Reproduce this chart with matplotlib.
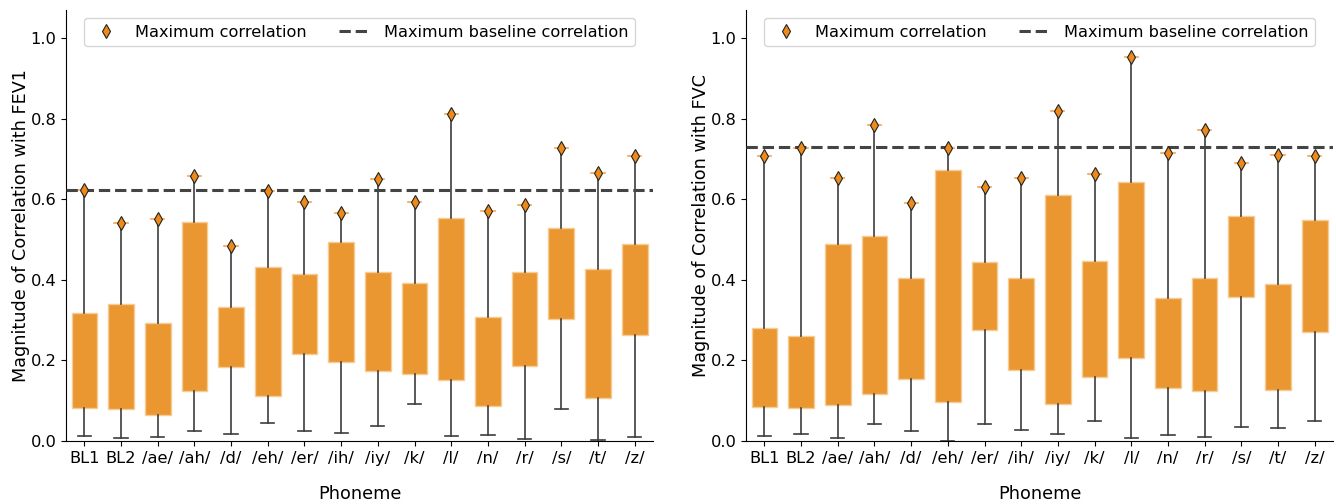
import matplotlib
matplotlib.use("Agg")
import matplotlib.pyplot as plt
from matplotlib.lines import Line2D

phonemes = ["BL1", "BL2", "/ae/", "/ah/", "/d/", "/eh/", "/er/", "/ih/",
            "/iy/", "/k/", "/l/", "/n/", "/r/", "/s/", "/t/", "/z/"]

# FEV1 panel
fev1_q1 = [0.083, 0.079, 0.064, 0.125, 0.184, 0.112, 0.216, 0.196,
           0.174, 0.166, 0.151, 0.088, 0.186, 0.304, 0.108, 0.262]
fev1_q3 = [0.317, 0.340, 0.292, 0.543, 0.333, 0.433, 0.414, 0.493,
           0.419, 0.392, 0.553, 0.307, 0.419, 0.529, 0.426, 0.488]
fev1_min = [0.013, 0.007, 0.010, 0.025, 0.017, 0.045, 0.025, 0.019,
            0.037, 0.092, 0.013, 0.015, 0.004, 0.080, 0.002, 0.010]
fev1_max = [0.623, 0.542, 0.552, 0.658, 0.483, 0.622, 0.594, 0.567,
            0.650, 0.594, 0.811, 0.572, 0.585, 0.727, 0.665, 0.707]
fev1_baseline = 0.624

# FVC panel
fvc_q1 = [0.084, 0.081, 0.089, 0.117, 0.155, 0.096, 0.275, 0.177,
          0.093, 0.160, 0.207, 0.131, 0.123, 0.358, 0.126, 0.271]
fvc_q3 = [0.280, 0.261, 0.490, 0.509, 0.404, 0.672, 0.444, 0.405,
          0.610, 0.447, 0.644, 0.356, 0.404, 0.558, 0.390, 0.548]
fvc_min = [0.012, 0.017, 0.007, 0.042, 0.025, 0.001, 0.041, 0.028,
           0.018, 0.049, 0.007, 0.016, 0.011, 0.034, 0.033, 0.049]
fvc_max = [0.707, 0.728, 0.653, 0.784, 0.591, 0.727, 0.630, 0.653,
           0.819, 0.663, 0.953, 0.715, 0.772, 0.690, 0.710, 0.707]
fvc_baseline = 0.729

BOX_COLOR = "#EA9631"
EDGE_COLOR = "#F7CB94"
WHISK_COLOR = "#3d3d3d"
MARK_COLOR = "#EE8A1A"
TOPCAP_COLOR = "#F0A458"
BASE_COLOR = "#444444"

plt.rcParams["font.family"] = "DejaVu Sans"

fig = plt.figure(figsize=(13.36, 5.04), dpi=100)
ax1 = fig.add_axes([0.0494, 0.125, 0.4394, 0.855])
ax2 = fig.add_axes([0.5584, 0.125, 0.4394, 0.855])


def draw(ax, q1, q3, lo, hi, base, ylabel):
    stats = []
    for i in range(len(phonemes)):
        stats.append(dict(q1=q1[i], q3=q3[i], med=(q1[i] + q3[i]) / 2,
                          whislo=lo[i], whishi=hi[i], fliers=[], label=phonemes[i]))
    pos = list(range(len(phonemes)))
    res = ax.bxp(stats, positions=pos, widths=0.7, patch_artist=True,
                 showfliers=False, capwidths=0.36,
                 boxprops=dict(facecolor=BOX_COLOR, edgecolor=EDGE_COLOR, linewidth=1.0),
                 whiskerprops=dict(color=WHISK_COLOR, linewidth=1.2),
                 capprops=dict(color=WHISK_COLOR, linewidth=1.2),
                 medianprops=dict(linewidth=0))
    for i, cap in enumerate(res["caps"]):
        if i % 2 == 1:
            cap.set_color(TOPCAP_COLOR)
    ax.plot(pos, hi, linestyle="none", marker="d", markersize=7,
            markerfacecolor=MARK_COLOR, markeredgecolor="#222222",
            markeredgewidth=0.8, zorder=5)
    ax.axhline(base, color=BASE_COLOR, linestyle="--", linewidth=2.2, zorder=4)
    ax.set_xlim(-0.5, len(phonemes) - 0.5)
    ax.set_ylim(0, 1.07)
    ax.set_yticks([0.0, 0.2, 0.4, 0.6, 0.8, 1.0])
    ax.set_xticks(pos)
    ax.set_xticklabels(phonemes)
    ax.tick_params(axis="both", labelsize=11.7)
    ax.set_ylabel(ylabel, fontsize=12.7, labelpad=0)
    ax.set_xlabel("Phoneme", fontsize=12.7, labelpad=14)
    ax.spines["top"].set_visible(False)
    ax.spines["right"].set_visible(False)
    handles = [Line2D([], [], linestyle="none", marker="d", markersize=7,
                      markerfacecolor=MARK_COLOR, markeredgecolor="#222222",
                      markeredgewidth=0.8),
               Line2D([], [], color=BASE_COLOR, linestyle="--", linewidth=2.2)]
    ax.legend(handles, ["Maximum correlation", "Maximum baseline correlation"],
              loc="upper center", ncol=2, fontsize=11.6, columnspacing=2.0)


draw(ax1, fev1_q1, fev1_q3, fev1_min, fev1_max, fev1_baseline,
     "Magnitude of Correlation with FEV1")
draw(ax2, fvc_q1, fvc_q3, fvc_min, fvc_max, fvc_baseline,
     "Magnitude of Correlation with FVC")

fig.savefig("out.png", dpi=100)
